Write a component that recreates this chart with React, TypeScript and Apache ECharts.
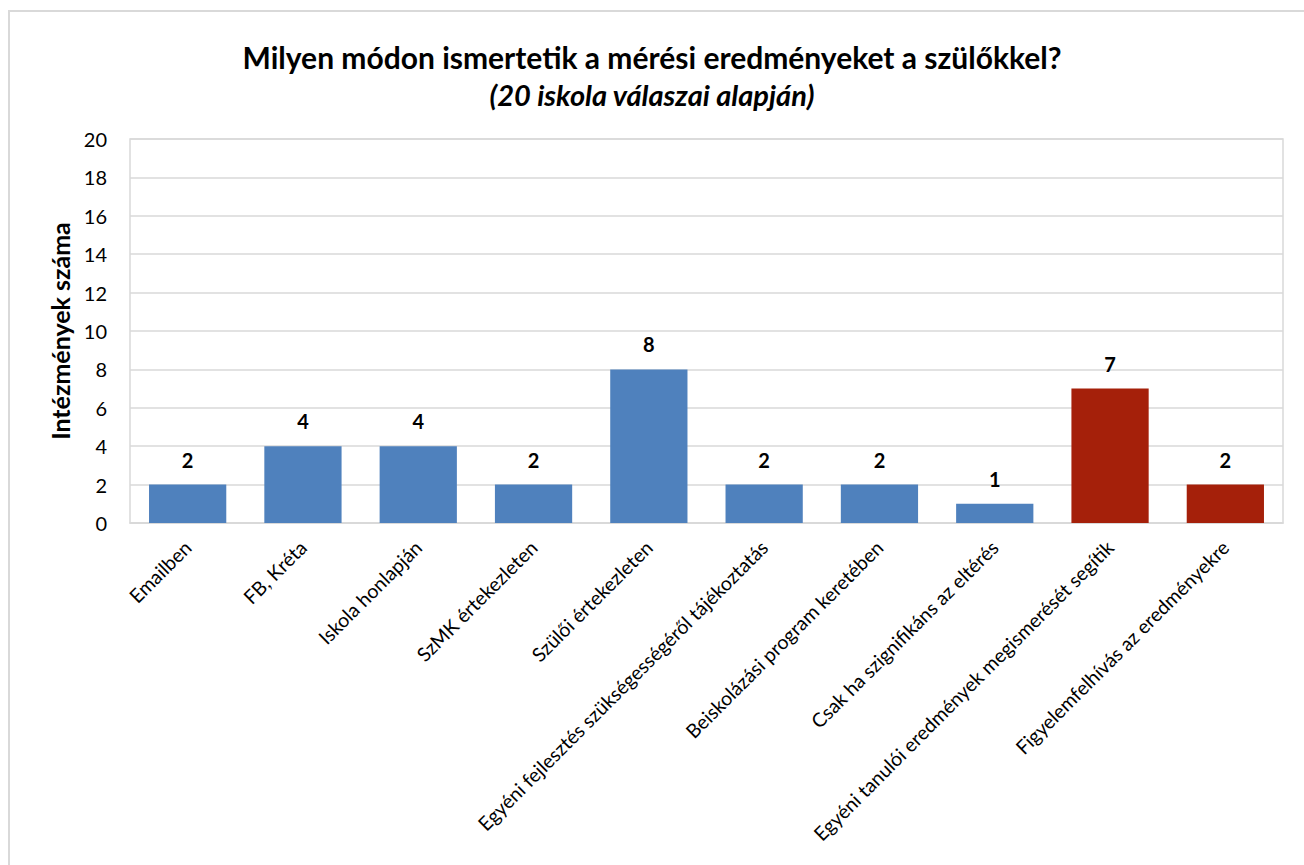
import React, { useEffect, useRef } from "react";
import * as echarts from "echarts";

const titleText = "Milyen módon ismertetik a mérési eredményeket a szülőkkel?";
const subtitleText = "(20 iskola válaszai alapján)";
const yAxisName = "Intézmények száma";

const categories = [
  "Emailben",
  "FB, Kréta",
  "Iskola honlapján",
  "SzMK értekezleten",
  "Szülői értekezleten",
  "Egyéni fejlesztés szükségességéről tájékoztatás",
  "Beiskolázási program keretében",
  "Csak ha szignifikáns az eltérés",
  "Egyéni tanulói eredmények megismerését segítik",
  "Figyelemfelhívás az eredményekre",
];
const values = [2, 4, 4, 2, 8, 2, 2, 1, 7, 2];
const highlighted = [false, false, false, false, false, false, false, false, true, true];

const BLUE = "#4F81BD";
const RED = "#A5200A";
const FONT = "Lato, 'Noto Sans', sans-serif";

export default function App() {
  const ref = useRef<HTMLDivElement>(null);
  useEffect(() => {
    if (!ref.current) return;
    const chart = echarts.init(ref.current, null, { renderer: "svg" });
    chart.setOption({
      animation: false,
      backgroundColor: "#ffffff",
      textStyle: { fontFamily: FONT, color: "#000" },
      title: [
        {
          text: titleText,
          left: "center",
          top: 37,
          textStyle: { fontFamily: FONT, fontSize: 30, fontWeight: "bold", color: "#000" },
        },
        {
          text: subtitleText,
          left: "center",
          top: 75,
          textStyle: { fontFamily: FONT, fontSize: 29, fontWeight: "bold", fontStyle: "italic", color: "#000" },
        },
      ],
      graphic: [
        {
          type: "rect",
          shape: { x: 9, y: 11, width: 1400, height: 1000 },
          style: { fill: "none", stroke: "#d9d9d9", lineWidth: 2 },
          silent: true,
          z: -1,
        },
      ],
      grid: {
        left: 130,
        right: 21,
        top: 139,
        bottom: 342,
        show: true,
        borderColor: "#d9d9d9",
        borderWidth: 1.5,
        backgroundColor: "transparent",
      },
      xAxis: {
        type: "category",
        data: categories,
        axisLine: { lineStyle: { color: "#d9d9d9", width: 1.5 } },
        axisTick: { show: false },
        axisLabel: {
          interval: 0,
          rotate: 45,
          fontSize: 19.5,
          color: "#000",
          fontFamily: FONT,
          margin: 21,
        },
      },
      yAxis: {
        type: "value",
        min: 0,
        max: 20,
        interval: 2,
        name: yAxisName,
        nameLocation: "middle",
        nameRotate: 90,
        nameGap: 56,
        nameTextStyle: { fontFamily: FONT, fontSize: 25, fontWeight: "bold", color: "#000" },
        axisLine: { show: false },
        axisTick: { show: false },
        axisLabel: { fontSize: 20, color: "#000", fontFamily: FONT, margin: 23 },
        splitLine: { lineStyle: { color: "#d9d9d9", width: 1.5 } },
      },
      series: [
        {
          type: "bar",
          barWidth: "67%",
          data: values.map((v, i) => ({
            value: v,
            itemStyle: { color: highlighted[i] ? RED : BLUE },
          })),
          label: {
            show: true,
            position: "top",
            distance: 15,
            fontSize: 20,
            fontWeight: "bold",
            color: "#000",
            fontFamily: FONT,
          },
        },
      ],
    });
    return () => chart.dispose();
  }, []);
  return (
    <div
      ref={ref}
      style={{ position: "fixed", left: 0, top: 0, width: 1304, height: 865 }}
    />
  );
}
